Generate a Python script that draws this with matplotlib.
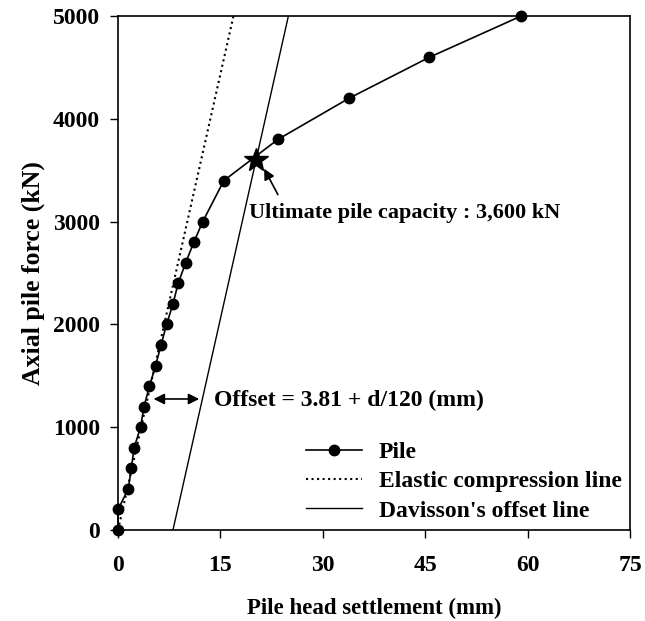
import matplotlib
matplotlib.use("Agg")
import matplotlib.pyplot as plt

# load test results (settlement in mm, load in kN)
settlement = [0, 0, 1.5, 1.95, 2.35, 3.3, 3.8, 4.6, 5.5, 6.3, 7.1, 8.05, 8.8, 9.9, 11.1, 12.4,
              15.5, 23.4, 33.8, 45.6, 59.0]
force = [0, 200, 400, 600, 800, 1000, 1200, 1400, 1600, 1800, 2000, 2200, 2400, 2600, 2800, 3000,
         3400, 3800, 4200, 4600, 5000]

# elastic compression line PL/AE, and Davisson's offset parallel to it
elastic_x = [0, 16.9]
elastic_y = [0, 5000]
pile_d = 508  # mm
offset = 3.81 + pile_d / 120
davisson_x = [offset, offset + 16.9]
davisson_y = [0, 5000]

ultimate_x = 20.2
ultimate_load = 3600

plt.rcParams['font.family'] = ['Liberation Serif', 'DejaVu Serif']
plt.rcParams['font.weight'] = 'bold'
fs = 17

fig = plt.figure(figsize=(6.45, 6.21), dpi=100)
ax = fig.add_axes([0.183, 0.1465, 0.794, 0.8275])

ax.plot(settlement, force, '-o', color='black', lw=1.2, ms=7.5, label='Pile', clip_on=False, zorder=4)
ax.plot(elastic_x, elastic_y, ':', color='black', lw=1.5, label='Elastic compression line')
ax.plot(davisson_x, davisson_y, '-', color='black', lw=1.0, label="Davisson's offset line")
ax.plot([ultimate_x], [ultimate_load], marker='*', color='black', ms=18, zorder=5, clip_on=False)

ax.annotate('', xy=(ultimate_x + 1.0, ultimate_load - 60), xytext=(23.6, 3240),
            arrowprops=dict(arrowstyle='-|>', color='black', lw=1.2, mutation_scale=16))
ax.text(19.2, 3085, 'Ultimate pile capacity : 3,600 kN', fontsize=16, fontweight='bold',
        va='center', ha='left')

ax.annotate('', xy=(4.8, 1275), xytext=(12.3, 1275),
            arrowprops=dict(arrowstyle='<|-|>', color='black', lw=1.2, mutation_scale=16))
ax.text(14.0, 1260, 'Offset = 3.81 + d/120 (mm)', fontsize=fs, fontweight='bold',
        va='center', ha='left')

ax.set_xlim(0, 75)
ax.set_ylim(0, 5000)
ax.set_xticks([0, 15, 30, 45, 60, 75])
ax.set_yticks([0, 1000, 2000, 3000, 4000, 5000])
ax.tick_params(direction='out', length=6, width=1, labelsize=fs)
ax.tick_params(axis='x', pad=12)
ax.tick_params(axis='y', pad=7)
for s in ax.spines.values():
    s.set_linewidth(1.2)

ax.set_xlabel('Pile head settlement (mm)', fontsize=16.5, fontweight='bold', labelpad=16)
ax.set_ylabel('Axial pile force (kN)', fontsize=18.5, fontweight='bold', labelpad=6)

ax.legend(loc='lower right', frameon=False, fontsize=fs, handlelength=2.4, handletextpad=0.7,
          bbox_to_anchor=(1.0, 0.0), borderaxespad=0.05, borderpad=0.3, labelspacing=0.33)

fig.savefig('out.png', dpi=100)
